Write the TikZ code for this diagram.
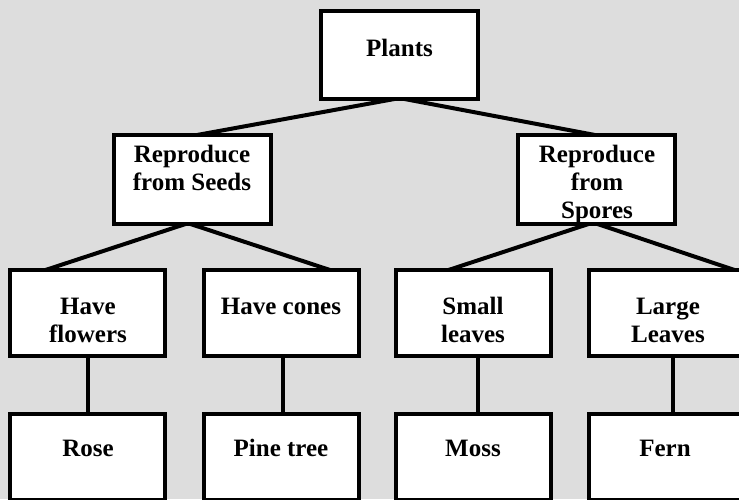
\documentclass[tikz,border=0pt]{standalone}
\usepackage{fontspec}
\setmainfont{Liberation Serif}
\definecolor{bggrey}{RGB}{221,221,221}
\begin{document}
\begin{tikzpicture}[x=1pt,y=-1pt,
  box/.style={draw=black, line width=4pt, fill=white, minimum width=157pt,
    minimum height=88pt, inner sep=0pt, outer sep=0pt},
  leafbox/.style={box, minimum width=155pt, minimum height=86pt},
  lbl/.style={font=\fontsize{25}{28}\selectfont\bfseries, align=center,
    anchor=base, inner sep=0pt},
  link/.style={line width=4pt}]
\useasboundingbox (0,0) rectangle (739,499);
\fill[bggrey] (0,0) rectangle (739,499);
\clip (0,0) rectangle (739,499);

% boxes
\node[box] (plants) at (399.5,55) {};
\node[box, minimum height=89pt] (seeds)  at (192.5,179.5) {};
\node[box, minimum height=89pt] (spores) at (596.5,179.5) {};
\node[leafbox] (flowers) at (87.5,313) {};
\node[leafbox] (cones)   at (281,313) {};
\node[leafbox] (small)   at (473.5,313) {};
\node[leafbox] (large)   at (666.5,313) {};
\node[leafbox] (rose)    at (87.5,457) {};
\node[leafbox] (pine)    at (281,457) {};
\node[leafbox] (moss)    at (473.5,457) {};
\node[leafbox] (fern)    at (666.5,457) {};

% connectors
\draw[link] ([xshift=-5pt]plants.south) -- ([xshift=4.5pt]seeds.north);
\draw[link] ([xshift=5pt]plants.south) -- ([xshift=-1.5pt]spores.north);
\draw[link] ([xshift=-7pt]seeds.south) -- ([xshift=-42pt]flowers.north);
\draw[link] ([xshift=-2pt]seeds.south) -- ([xshift=49pt]cones.north);
\draw[link] ([xshift=-8pt]spores.south) -- ([xshift=-25pt]small.north);
\draw[link] ([xshift=1pt]spores.south) -- ([xshift=68pt]large.north);
\draw[link] (flowers.south) -- (rose.north);
\draw[link] ([xshift=2pt]cones.south) -- ([xshift=2pt]pine.north);
\draw[link] ([xshift=4pt]small.south) -- ([xshift=4pt]moss.north);
\draw[link] ([xshift=6.5pt]large.south) -- ([xshift=6.5pt]fern.north);

% labels (base anchor sits on the last line's baseline)
\node[lbl] (tplants)  at (399.5,56)  {Plants};
\node[lbl] (tseeds)   at (192,190.7) {Reproduce\\from Seeds};
\node[lbl] (tspores)  at (597,218.5) {Reproduce\\from\\Spores};
\node[lbl] (tflowers) at (88,342.7)  {Have\\flowers};
\node[lbl] (tcones)   at (281,314)   {Have cones};
\node[lbl] (tsmall)   at (473,342.7) {Small\\leaves};
\node[lbl] (tlarge)   at (668,342.7) {Large\\Leaves};
\node[lbl] (trose)    at (88,456)    {Rose};
\node[lbl] (tpine)    at (281,456)   {Pine tree};
\node[lbl] (tmoss)    at (473,456)   {Moss};
\node[lbl] (tfern)    at (665,456)   {Fern};
\end{tikzpicture}
\end{document}
